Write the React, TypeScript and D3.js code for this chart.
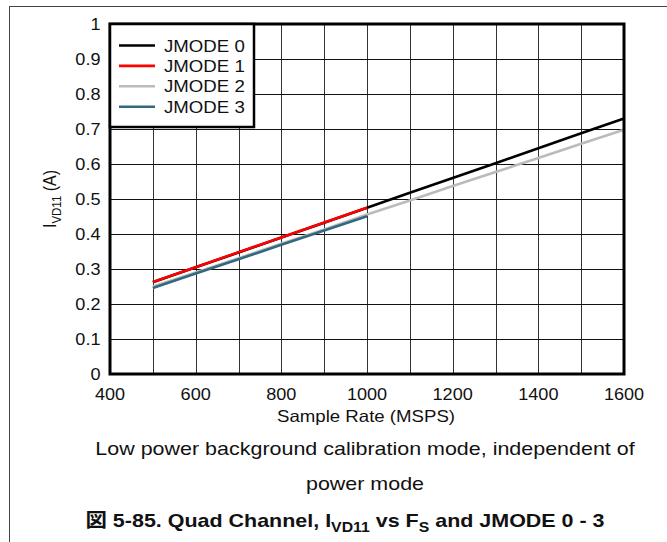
import React from "react";
import * as d3 from "d3";

const rates = [500, 600, 700, 800, 900, 1000, 1100, 1200, 1300, 1400, 1500, 1600];
const jmode0 = [0.262, 0.305, 0.347, 0.39, 0.432, 0.475, 0.518, 0.56, 0.602, 0.645, 0.688, 0.73];
const jmode1 = [0.263, 0.305, 0.348, 0.39, 0.433, 0.475];
const jmode2 = [0.25, 0.29, 0.331, 0.372, 0.413, 0.456, 0.496, 0.537, 0.577, 0.617, 0.658, 0.698];
const jmode3 = [0.2455, 0.287, 0.328, 0.369, 0.41, 0.451];
const seriesNames = ["JMODE 0", "JMODE 1", "JMODE 2", "JMODE 3"];
const seriesColors = ["#000000", "#ff0000", "#bbbbbb", "#33687f"];
const xTicks = [400, 600, 800, 1000, 1200, 1400, 1600];
const yTicks = [0, 0.1, 0.2, 0.3, 0.4, 0.5, 0.6, 0.7, 0.8, 0.9, 1];
const xGrid = d3.range(400, 1601, 100);

const FONT = "'Liberation Sans', Arial, Helvetica, 'Noto Sans CJK JP', sans-serif";
const SX = 1.13;

function T(props: {
  x: number;
  y: number;
  size: number;
  anchor?: string;
  bold?: boolean;
  rotate?: number;
  children: React.ReactNode;
}) {
  const { x, y, size, anchor = "start", bold, rotate, children } = props;
  return (
    <text
      transform={`translate(${x},${y}) scale(${SX},1)${rotate ? ` rotate(${rotate})` : ""}`}
      fontSize={size}
      fontWeight={bold ? "bold" : "normal"}
      textAnchor={anchor}
      fill="#111"
    >
      {children}
    </text>
  );
}

export default function App() {
  const L = 110, Tp = 24, R = 624, B = 374;
  const x = d3.scaleLinear().domain([400, 1600]).range([L, R]);
  const y = d3.scaleLinear().domain([0, 1]).range([B, Tp]);
  const line = d3
    .line<[number, number]>()
    .x((d) => x(d[0]))
    .y((d) => y(d[1]));
  const series = [jmode0, jmode1, jmode2, jmode3].map((vals) =>
    vals.map((v, i) => [rates[i], v] as [number, number])
  );
  const order = [0, 2, 1, 3];

  return (
    <svg
      width={667}
      height={542}
      style={{ position: "absolute", left: 0, top: 0, background: "#fff" }}
      fontFamily={FONT}
    >
      <rect x={0} y={0} width={667} height={542} fill="#fff" />
      <line x1={9.5} y1={6} x2={9.5} y2={542} stroke="#444" strokeWidth={1} />
      <line x1={9} y1={6.5} x2={667} y2={6.5} stroke="#444" strokeWidth={1} />

      {xGrid.map((v) => (
        <line
          key={"gx" + v}
          x1={Math.round(x(v)) + 0.5}
          x2={Math.round(x(v)) + 0.5}
          y1={Tp}
          y2={B}
          stroke="#333"
          strokeWidth={1}
        />
      ))}
      {yTicks.map((v) => (
        <line
          key={"gy" + v}
          x1={L}
          x2={R}
          y1={Math.round(y(v)) + 0.5}
          y2={Math.round(y(v)) + 0.5}
          stroke="#111"
          strokeWidth={1}
        />
      ))}

      {order.map((i) => (
        <path
          key={"s" + i}
          d={line(series[i]) || ""}
          fill="none"
          stroke={seriesColors[i]}
          strokeWidth={2.6}
        />
      ))}

      <rect x={L} y={Tp} width={R - L} height={B - Tp} fill="none" stroke="#000" strokeWidth={3} />

      <rect x={L} y={Tp} width={144} height={103} fill="#fff" stroke="#000" strokeWidth={2.5} />
      {seriesNames.map((n, i) => (
        <g key={n}>
          <line
            x1={119}
            x2={155}
            y1={45.5 + i * 20.4}
            y2={45.5 + i * 20.4}
            stroke={seriesColors[i]}
            strokeWidth={2.6}
          />
          <T x={164} y={45.5 + i * 20.4 + 6} size={16.5}>
            {n}
          </T>
        </g>
      ))}

      {xTicks.map((v) => (
        <T key={"tx" + v} x={x(v)} y={400} size={16} anchor="middle">
          {v}
        </T>
      ))}
      {yTicks.map((v) => (
        <T key={"ty" + v} x={100.5} y={y(v) + 6} size={16} anchor="end">
          {d3.format("~g")(v)}
        </T>
      ))}

      <T x={366} y={422} size={16.5} anchor="middle">
        Sample Rate (MSPS)
      </T>
      <T x={56} y={199} size={16} anchor="middle" rotate={-90}>
        I
        <tspan fontSize={11.5} dy={4}>VD11</tspan>
        <tspan dy={-4}> (A)</tspan>
      </T>

      <T x={365} y={455} size={19} anchor="middle">
        Low power background calibration mode, independent of
      </T>
      <T x={365} y={490} size={19} anchor="middle">
        power mode
      </T>

      <T x={345} y={527} size={19} bold anchor="middle">
        図 5-85. Quad Channel, I
        <tspan fontSize={14} dy={5}>VD11</tspan>
        <tspan dy={-5}> vs F</tspan>
        <tspan fontSize={14} dy={5}>S</tspan>
        <tspan dy={-5}> and JMODE 0 - 3</tspan>
      </T>
    </svg>
  );
}
